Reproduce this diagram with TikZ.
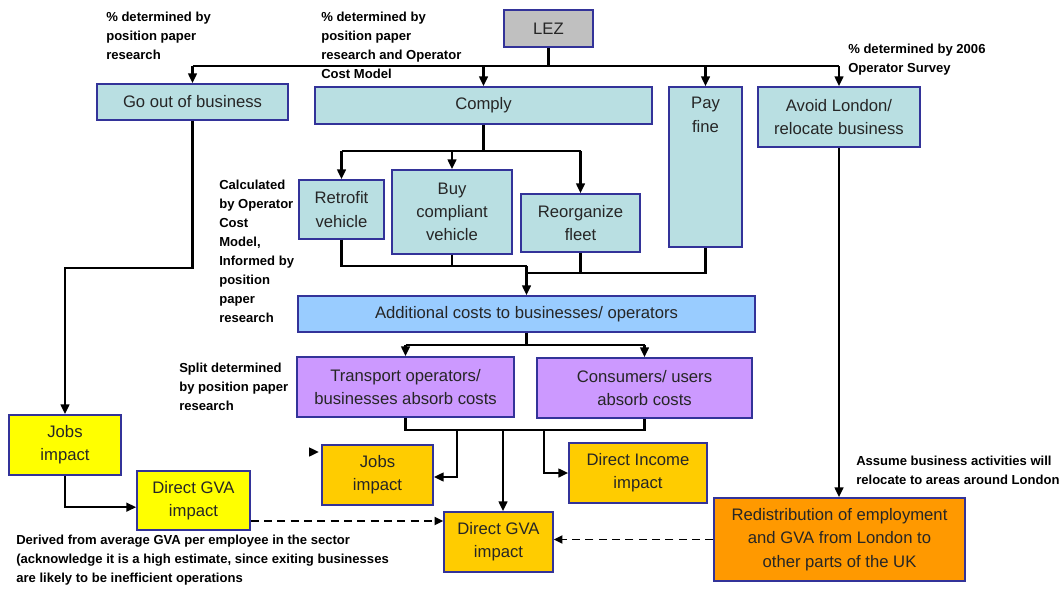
\documentclass[tikz,border=0pt]{standalone}
\usepackage{fontspec}
\setmainfont{Liberation Sans}
\usepackage{tikz}
\usetikzlibrary{arrows.meta}

\definecolor{boxline}{RGB}{51,51,153}
\definecolor{lezgray}{RGB}{192,192,192}
\definecolor{choicecyan}{RGB}{185,223,226}
\definecolor{costblue}{RGB}{153,204,255}
\definecolor{splitpurple}{RGB}{204,153,255}
\definecolor{impactyellow}{RGB}{255,255,0}
\definecolor{impactgold}{RGB}{255,204,0}
\definecolor{redistorange}{RGB}{255,153,0}

\begin{document}
\begin{tikzpicture}[x=0.75pt,y=0.75pt,yscale=-1,xscale=1,
  box/.style={draw=boxline,line width=1.1pt,align=center,inner sep=0pt,text=black!85,
    font=\fontsize{12.5}{17.5}\selectfont},
  note/.style={anchor=north west,inner sep=0pt,align=left,
    font=\fontsize{9.8}{14.25}\selectfont\bfseries},
  conn/.style={line width=1.8pt},
  arr/.style={conn,-{Triangle[length=7.5pt,width=6.5pt]}},
  dasharr/.style={line width=1.4pt,dash pattern=on 6pt off 4pt,-{Triangle[length=6.5pt,width=6pt]}}]
%set diagram left start at 0, and has height of 589
\useasboundingbox (0,0) rectangle (1063,589);

% Top level
\node[box,fill=lezgray,minimum width=66.75pt,minimum height=27.75pt] (lez) at (548.5,28.5) {LEZ};
\node[box,fill=choicecyan,minimum width=143.25pt,minimum height=27pt] (goout) at (192.5,102) {Go out of business};
\node[box,fill=choicecyan,minimum width=252.75pt,minimum height=27.75pt] (comply) at (483.5,105.5) {Comply};
\node[box,fill=choicecyan,minimum width=54.75pt,minimum height=120pt,
  label={[anchor=north,align=center,inner sep=0pt,yshift=-8pt,text=black!85,
    font=\fontsize{12.5}{17.5}\selectfont]north:Pay\\fine}] (payfine) at (705.5,167) {};
\node[box,fill=choicecyan,minimum width=121.5pt,minimum height=45pt] (avoid) at (839,117) {Avoid London/\\relocate business};

% Comply options
\node[box,fill=choicecyan,minimum width=63.75pt,minimum height=44.25pt] (retrofit) at (341.5,209.5) {Retrofit\\vehicle};
\node[box,fill=choicecyan,minimum width=90pt,minimum height=63pt] (buy) at (452,212) {Buy\\compliant\\vehicle};
\node[box,fill=choicecyan,minimum width=89.25pt,minimum height=43.5pt] (reorg) at (580.5,223) {Reorganize\\fleet};

% Costs
\node[box,fill=costblue,minimum width=342.75pt,minimum height=27pt] (addcost) at (526.5,314) {Additional costs to businesses/ operators};
\node[box,fill=splitpurple,minimum width=162.75pt,minimum height=45pt] (transport) at (405.5,387) {Transport operators/\\businesses absorb costs};
\node[box,fill=splitpurple,minimum width=161.25pt,minimum height=45pt] (consumers) at (644.5,388) {Consumers/ users\\absorb costs};

% Impacts
\node[box,fill=impactyellow,minimum width=84pt,minimum height=45pt] (jobsA) at (65,445) {Jobs\\impact};
\node[box,fill=impactyellow,minimum width=84.75pt,minimum height=44.25pt] (gvaA) at (193.5,500.5) {Direct GVA\\impact};
\node[box,fill=impactgold,minimum width=83.25pt,minimum height=45pt] (jobsB) at (377.5,475) {Jobs\\impact};
\node[box,fill=impactgold,minimum width=103.5pt,minimum height=45pt] (income) at (638,473) {Direct Income\\impact};
\node[box,fill=impactgold,minimum width=81.75pt,minimum height=45pt] (gvaB) at (498.5,542) {Direct GVA\\impact};
\node[box,fill=redistorange,minimum width=188.25pt,minimum height=62.25pt] (redist) at (839.5,539.5) {Redistribution of employment\\and GVA from London to\\other parts of the UK};

% Text Node
\node[note] (noteGo) at (106,12) {\% determined by\\position paper\\research};
\node[note] (noteComply) at (321,12) {\% determined by\\position paper\\research and Operator\\Cost Model};
\node[note] (noteAvoid) at (848,44) {\% determined by 2006\\Operator Survey};
\node[note] (noteCalc) at (219,180) {Calculated\\by Operator\\Cost\\Model,\\Informed by\\position\\paper\\research};
\node[note] (noteSplit) at (179,363) {Split determined\\by position paper\\research};
\node[note] (noteDerived) at (16,535) {Derived from average GVA per employee in the sector\\(acknowledge it is a high estimate, since exiting businesses\\are likely to be inefficient operations};
\node[note] (noteAssume) at (856,456) {Assume business activities will\\relocate to areas around London};

% LEZ branches
\coordinate (bus1) at (548,66);
\draw[conn] (lez.south) -- (lez.south |- bus1);
\draw[conn] (goout.north |- bus1) -- (avoid.north |- bus1);
\draw[arr] (goout.north |- bus1) -- (goout.north);
\draw[arr] (comply.north |- bus1) -- (comply.north);
\draw[arr] (payfine.north |- bus1) -- (payfine.north);
\draw[arr] (avoid.north |- bus1) -- (avoid.north);

% Comply branches
\coordinate (bus2) at (comply.south |- 0,151);
\draw[conn] (comply.south) -- (bus2);
\draw[conn] (retrofit.north |- bus2) -- (reorg.north |- bus2);
\draw[arr] (retrofit.north |- bus2) -- (retrofit.north);
\draw[arr] (buy.north |- bus2) -- (buy.north);
\draw[arr] (reorg.north |- bus2) -- (reorg.north);

% Into additional costs
\coordinate (join1) at (addcost.north |- 0,266);
\coordinate (join2) at (addcost.north |- 0,273);
\draw[conn] (retrofit.south) |- (join1);
\draw[conn] (buy.south) -- (buy.south |- join1);
\draw[conn] (reorg.south) -- (reorg.south |- join2);
\draw[conn] (payfine.south) |- (join2);
\draw[arr] (join1) -- (addcost.north);

% Split of costs
\coordinate (bus3) at (addcost.south |- 0,345);
\draw[conn] (addcost.south) -- (bus3);
\draw[conn] (transport.north |- bus3) -- (consumers.north |- bus3);
\draw[arr] (transport.north |- bus3) -- (transport.north);
\draw[arr] (consumers.north |- bus3) -- (consumers.north);

% Absorbed costs to impacts
\draw[conn] (transport.south) |- (consumers.south |- 0,430) -- (consumers.south);
\coordinate (tapA) at (457,430);
\coordinate (tapB) at (503,430);
\coordinate (tapC) at (544,430);
\draw[arr] (tapA) |- ([yshift=1.5pt]jobsB.east);
\draw[arr] (tapB) -- (tapB |- gvaB.north);
\draw[arr] (tapC) |- (income.west);
\coordinate (stray) at (319,452);
\draw[arr] ([xshift=-7.5pt]stray) -- (stray);

% Go out of business chain
\draw[arr] (goout.south) |- (jobsA.north |- 0,268) -- (jobsA.north);
\draw[arr] (jobsA.south) |- ([yshift=5pt]gvaA.west);
\draw[dasharr] (gvaA.east |- 0,521) -- (gvaB.west |- 0,521);

% Relocation chain
\draw[arr] (avoid.south) -- (avoid.south |- redist.north);
\draw[dasharr] (redist.west) -- (gvaB.east |- redist.west);
\end{tikzpicture}
\end{document}
